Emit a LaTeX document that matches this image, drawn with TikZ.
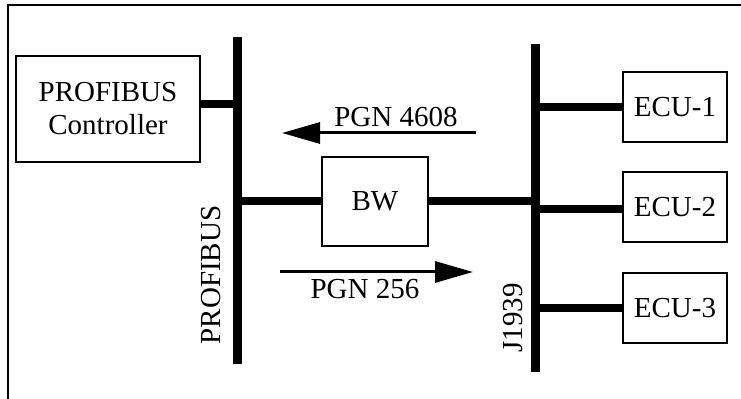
\documentclass[tikz,border=0pt]{standalone}
\usepackage{fontspec}
\setmainfont{Liberation Serif}
\usetikzlibrary{positioning,arrows.meta}
\tikzset{unit/.style={
        draw, 
        rectangle, 
        line width=1pt, 
        minimum width=52pt, 
        minimum height=35pt,  
        inner sep=0pt,
        font=\fontsize{14.5}{16.5}\selectfont } }
\tikzset{bus/.style={
        line width=4.5pt } }
\tikzset{link/.style={
        line width=4pt } }
\tikzset{msg/.style={
        line width=1.5pt, 
        -{Triangle[length=19pt,width=10.5pt]} } }
\tikzset{tag/.style={
        inner sep=0pt, 
        font=\fontsize{14.5}{16.5}\selectfont } }

\begin{document}
\begin{tikzpicture}[x=0.5pt,y=-0.5pt]
\useasboundingbox (0,0) rectangle (741,399);

% frame
\draw[line width=1pt] (741,5) -- (8,5) -- (8,399);

% buses
\coordinate (pbtop) at (237,37);
\coordinate (pbbot) at (237,364);
\coordinate (jbtop) at (535,44);
\coordinate (jbbot) at (535,372);
\draw[bus] (pbtop) -- (pbbot);
\draw[bus] (jbtop) -- (jbbot);

\node[unit, minimum width=92pt, minimum height=53pt, align=center] (ctrl) 
at (108,109) {PROFIBUS\\Controller};
\node[unit, minimum width=53pt, minimum height=44.5pt] (bw) 
at (375,201.5) {BW};

\node[unit] (ecu1) at (675,107) {ECU-1};
\node[unit] (ecu2) [below = 14pt of ecu1] {ECU-2};
\node[unit] (ecu3) [below = 14.5pt of ecu2] {ECU-3};

\draw[link] ([yshift=2.5pt]ctrl.east) -- ([yshift=2.5pt]ctrl.east -| pbtop);
\draw[link] (bw.west) -- (bw.west -| pbtop);
\draw[link] (bw.east) -- (bw.east -| jbtop);
\draw[link] (ecu1.west) -- (ecu1.west -| jbtop);
\draw[link] ([yshift=-1pt]ecu2.west) -- ([yshift=-1pt]ecu2.west -| jbtop);
\draw[link] (ecu3.west) -- (ecu3.west -| jbtop);

% messages
\coordinate (in from) at (476,133);
\coordinate (in to) at (282,133);
\coordinate (out from) at (280,272);
\coordinate (out to) at (473,272);
\draw[msg] (in from) -- (in to);
\draw[msg] (out from) -- (out to);
\node[tag] (pgn4608) at (396,117) {PGN 4608};
\node[tag] (pgn256) at (365,289) {PGN 256};

\node[tag, rotate=90] (pblabel) at (211,275) {PROFIBUS};
\node[tag, rotate=90] (jlabel) at (513,318) {J1939};

\end{tikzpicture}
\end{document}
